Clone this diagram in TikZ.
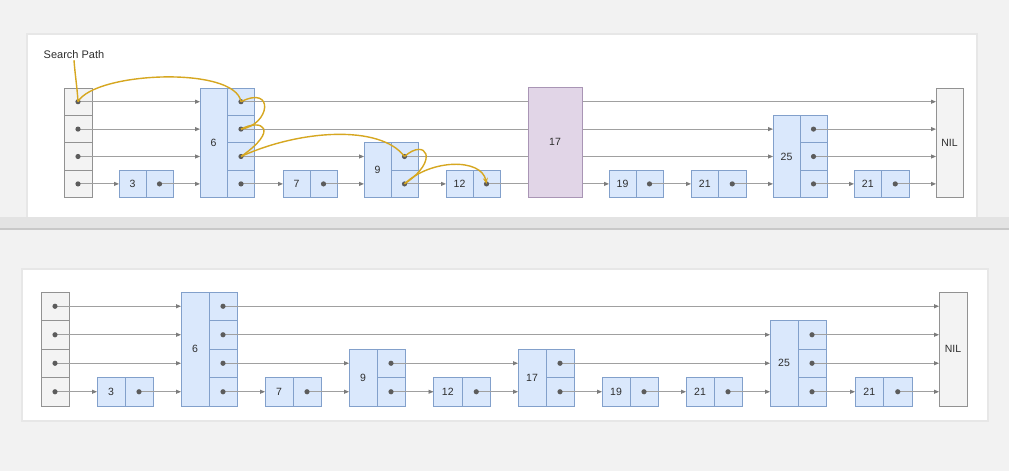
\documentclass[tikz,border=0pt]{standalone}
\usepackage{fontspec}
\setmainfont{Liberation Sans}
\usetikzlibrary{arrows.meta,calc}
\definecolor{bgc}{HTML}{F2F2F2}
\definecolor{bandc}{HTML}{E3E3E3}
\definecolor{bandl}{HTML}{C8C8C8}
\definecolor{shad}{HTML}{E7E7E7}
\definecolor{bfill}{HTML}{DAE8FC}
\definecolor{bstroke}{HTML}{82A0CB}
\definecolor{hfill}{HTML}{F3F3F3}
\definecolor{hstroke}{HTML}{929292}
\definecolor{pfill}{HTML}{E1D5E7}
\definecolor{pstroke}{HTML}{A995B5}
\definecolor{lnk}{HTML}{A0A0A0}
\definecolor{tipc}{HTML}{7C7C7C}
\definecolor{dotc}{HTML}{5C5C5C}
\definecolor{gold}{HTML}{D6A720}
\definecolor{txt}{HTML}{2E2E2E}
\tikzset{
  cellb/.style={draw=bstroke, fill=bfill, line width=0.7pt, inner sep=0pt, outer sep=0pt,
    font=\fontsize{10.5}{12}\selectfont, text=txt},
  cellh/.style={draw=hstroke, fill=hfill, line width=0.7pt, inner sep=0pt, outer sep=0pt},
  cellp/.style={draw=pstroke, fill=pfill, line width=0.7pt, inner sep=0pt, outer sep=0pt,
    font=\fontsize{10.5}{12}\selectfont, text=txt},
  cellnil/.style={draw=hstroke, fill=hfill, line width=0.7pt, inner sep=0pt, outer sep=0pt,
    font=\fontsize{10.5}{12}\selectfont, text=txt},
  link/.style={draw=lnk, line width=0.9pt, -{Triangle[length=5pt,width=4pt,color=tipc]}},
  gpath/.style={draw=gold, line width=1.4pt},
  card/.style={fill=white},
}
% two-cell node: name, x-left, y-center, cell width, cell height, label
\newcommand\TwoCell[6]{%
  \node[cellb, minimum width=#4pt, minimum height=#5pt] (#1k) at ({#2+#4/2},#3) {#6};
  \node[cellb, minimum width=#4pt, minimum height=#5pt] (#1p) at ({#2+#4*1.5},#3) {};
}
\newcommand\Dot[1]{\fill[dotc] (#1.center) circle (2.6pt);}
\begin{document}
\begin{tikzpicture}[x=1pt,y=-1pt]
\useasboundingbox (0,0) rectangle (1009,471);
\fill[bgc] (0,0) rectangle (1009,471);
% top card and band
\fill[shad] (26,33) rectangle (978,218);
\fill[card] (28,35) rectangle (976,216.5);
\fill[bandc] (0,217) rectangle (1009,228);
\draw[bandl, line width=1.6pt] (0,229) -- (1009,229);
% bottom card
\fill[shad] (21,268) rectangle (989,422);
\fill[card] (23,270) rectangle (987,420);

% ================= TOP DIAGRAM =================
\node[cellh, minimum width=28pt, minimum height=27.4pt] (th1) at (78,101.7) {};
\node[cellh, minimum width=28pt, minimum height=27.4pt] (th2) at (78,129.1) {};
\node[cellh, minimum width=28pt, minimum height=27.4pt] (th3) at (78,156.5) {};
\node[cellh, minimum width=28pt, minimum height=27.4pt] (th4) at (78,183.9) {};

\TwoCell{t3}{119}{183.9}{27}{27.4}{3}
\node[cellb, minimum width=27pt, minimum height=109.6pt] (t6k) at (213.5,142.8) {6};
\node[cellb, minimum width=27pt, minimum height=27.4pt] (t6a) at (241,101.7) {};
\node[cellb, minimum width=27pt, minimum height=27.4pt] (t6b) at (241,129.1) {};
\node[cellb, minimum width=27pt, minimum height=27.4pt] (t6c) at (241,156.5) {};
\node[cellb, minimum width=27pt, minimum height=27.4pt] (t6d) at (241,183.9) {};
\TwoCell{t7}{283}{183.9}{27}{27.4}{7}
\node[cellb, minimum width=27pt, minimum height=54.8pt] (t9k) at (377.5,170.2) {9};
\node[cellb, minimum width=27pt, minimum height=27.4pt] (t9c) at (404.5,156.5) {};
\node[cellb, minimum width=27pt, minimum height=27.4pt] (t9d) at (404.5,183.9) {};
\TwoCell{t12}{446}{183.9}{27}{27.4}{12}
\TwoCell{t19}{609}{183.9}{27}{27.4}{19}
\TwoCell{t21}{691}{183.9}{27.5}{27.4}{21}
\node[cellb, minimum width=27pt, minimum height=82.2pt] (t25k) at (786.5,156.5) {25};
\node[cellb, minimum width=27pt, minimum height=27.4pt] (t25b) at (813.5,129.1) {};
\node[cellb, minimum width=27pt, minimum height=27.4pt] (t25c) at (813.5,156.5) {};
\node[cellb, minimum width=27pt, minimum height=27.4pt] (t25d) at (813.5,183.9) {};
\TwoCell{t21b}{854}{183.9}{27.5}{27.4}{21}
\node[cellnil, minimum width=27pt, minimum height=109.6pt] (tnil) at (949.5,142.8) {NIL};

% top links
\draw[link] (th1.center) -- (th1.center -| t6k.west);
\draw[link] (th2.center) -- (th2.center -| t6k.west);
\draw[link] (th3.center) -- (th3.center -| t6k.west);
\draw[link] (th4.center) -- (th4.center -| t3k.west);
\draw[link] (t3p.center) -- (t3p.center -| t6k.west);
\draw[link] (t6a.center) -- (t6a.center -| tnil.west);
\draw[link] (t6b.center) -- (t6b.center -| t25k.west);
\draw[link] (t6c.center) -- (t6c.center -| t9k.west);
\draw[link] (t6d.center) -- (t6d.center -| t7k.west);
\draw[link] (t7p.center) -- (t7p.center -| t9k.west);
\draw[link] (t9c.center) -- (t9c.center -| t25k.west);
\draw[link] (t9d.center) -- (t9d.center -| t12k.west);
\draw[link] (t12p.center) -- (t12p.center -| t19k.west);
\draw[link] (t19p.center) -- (t19p.center -| t21k.west);
\draw[link] (t21p.center) -- (t21p.center -| t25k.west);
\draw[link] (t25b.center) -- (t25b.center -| tnil.west);
\draw[link] (t25c.center) -- (t25c.center -| tnil.west);
\draw[link] (t25d.center) -- (t25d.center -| t21bk.west);
\draw[link] (t21bp.center) -- (t21bp.center -| tnil.west);

% node 17 drawn over the links that pass behind it
\node[cellp, minimum width=54pt, minimum height=110.6pt] (t17) at (555,142.3) {17};

% dots
\foreach \n in {th1,th2,th3,th4,t3p,t6a,t6b,t6c,t6d,t7p,t9c,t9d,t12p,t19p,t21p,t25b,t25c,t25d,t21bp} {\Dot{\n}}

% search path
\node[font=\fontsize{11}{13}\selectfont, text=txt, inner sep=1pt] (sp) at (74,55) {Search Path};
\draw[gpath] (sp.south) .. controls +(1,14) and +(-1,-16) .. (th1.center);
\draw[gpath] (th1.center) .. controls +(17,-30) and +(-6,-36) .. (t6a.center);
\draw[gpath] (t6a.center) .. controls +(34,-17) and +(29,-4) .. (t6b.center);
\draw[gpath] (t6b.center) .. controls +(21,-11) and +(39,-27) .. (t6c.center);
\draw[gpath] (t6c.center) .. controls +(59,-27) and +(-24,-32) .. (t9c.center);
\draw[gpath] (t9c.center) .. controls +(21,-19) and +(36,-24) .. (t9d.center);
\draw[gpath, -{Stealth[length=6pt,width=5pt]}] (t9d.center) .. controls +(26,-25) and +(-5,-26) .. (t12p.center);

% ================= BOTTOM DIAGRAM =================
\node[cellh, minimum width=28pt, minimum height=28.5pt] (bh1) at (55,306.25) {};
\node[cellh, minimum width=28pt, minimum height=28.5pt] (bh2) at (55,334.75) {};
\node[cellh, minimum width=28pt, minimum height=28.5pt] (bh3) at (55,363.25) {};
\node[cellh, minimum width=28pt, minimum height=28.5pt] (bh4) at (55,391.75) {};

\TwoCell{b3}{97}{391.75}{28}{28.5}{3}
\node[cellb, minimum width=28pt, minimum height=114pt] (b6k) at (195,349) {6};
\node[cellb, minimum width=28pt, minimum height=28.5pt] (b6a) at (223,306.25) {};
\node[cellb, minimum width=28pt, minimum height=28.5pt] (b6b) at (223,334.75) {};
\node[cellb, minimum width=28pt, minimum height=28.5pt] (b6c) at (223,363.25) {};
\node[cellb, minimum width=28pt, minimum height=28.5pt] (b6d) at (223,391.75) {};
\TwoCell{b7}{265}{391.75}{28}{28.5}{7}
\node[cellb, minimum width=28pt, minimum height=57pt] (b9k) at (363,377.5) {9};
\node[cellb, minimum width=28pt, minimum height=28.5pt] (b9c) at (391,363.25) {};
\node[cellb, minimum width=28pt, minimum height=28.5pt] (b9d) at (391,391.75) {};
\TwoCell{b12}{433.5}{391.75}{28.5}{28.5}{12}
\node[cellb, minimum width=28pt, minimum height=57pt] (b17k) at (532,377.5) {17};
\node[cellb, minimum width=28pt, minimum height=28.5pt] (b17c) at (560,363.25) {};
\node[cellb, minimum width=28pt, minimum height=28.5pt] (b17d) at (560,391.75) {};
\TwoCell{b19}{602}{391.75}{28}{28.5}{19}
\TwoCell{b21}{686}{391.75}{28}{28.5}{21}
\node[cellb, minimum width=28pt, minimum height=85.5pt] (b25k) at (784,363.25) {25};
\node[cellb, minimum width=28pt, minimum height=28.5pt] (b25b) at (812,334.75) {};
\node[cellb, minimum width=28pt, minimum height=28.5pt] (b25c) at (812,363.25) {};
\node[cellb, minimum width=28pt, minimum height=28.5pt] (b25d) at (812,391.75) {};
\TwoCell{b21b}{855}{391.75}{28.5}{28.5}{21}
\node[cellnil, minimum width=28pt, minimum height=114pt] (bnil) at (953,349) {NIL};

% bottom links
\draw[link] (bh1.center) -- (bh1.center -| b6k.west);
\draw[link] (bh2.center) -- (bh2.center -| b6k.west);
\draw[link] (bh3.center) -- (bh3.center -| b6k.west);
\draw[link] (bh4.center) -- (bh4.center -| b3k.west);
\draw[link] (b3p.center) -- (b3p.center -| b6k.west);
\draw[link] (b6a.center) -- (b6a.center -| bnil.west);
\draw[link] (b6b.center) -- (b6b.center -| b25k.west);
\draw[link] (b6c.center) -- (b6c.center -| b9k.west);
\draw[link] (b6d.center) -- (b6d.center -| b7k.west);
\draw[link] (b7p.center) -- (b7p.center -| b9k.west);
\draw[link] (b9c.center) -- (b9c.center -| b17k.west);
\draw[link] (b9d.center) -- (b9d.center -| b12k.west);
\draw[link] (b12p.center) -- (b12p.center -| b17k.west);
\draw[link] (b17c.center) -- (b17c.center -| b25k.west);
\draw[link] (b17d.center) -- (b17d.center -| b19k.west);
\draw[link] (b19p.center) -- (b19p.center -| b21k.west);
\draw[link] (b21p.center) -- (b21p.center -| b25k.west);
\draw[link] (b25b.center) -- (b25b.center -| bnil.west);
\draw[link] (b25c.center) -- (b25c.center -| bnil.west);
\draw[link] (b25d.center) -- (b25d.center -| b21bk.west);
\draw[link] (b21bp.center) -- (b21bp.center -| bnil.west);

\foreach \n in {bh1,bh2,bh3,bh4,b3p,b6a,b6b,b6c,b6d,b7p,b9c,b9d,b12p,b17c,b17d,b19p,b21p,b25b,b25c,b25d,b21bp} {\Dot{\n}}
\end{tikzpicture}
\end{document}
